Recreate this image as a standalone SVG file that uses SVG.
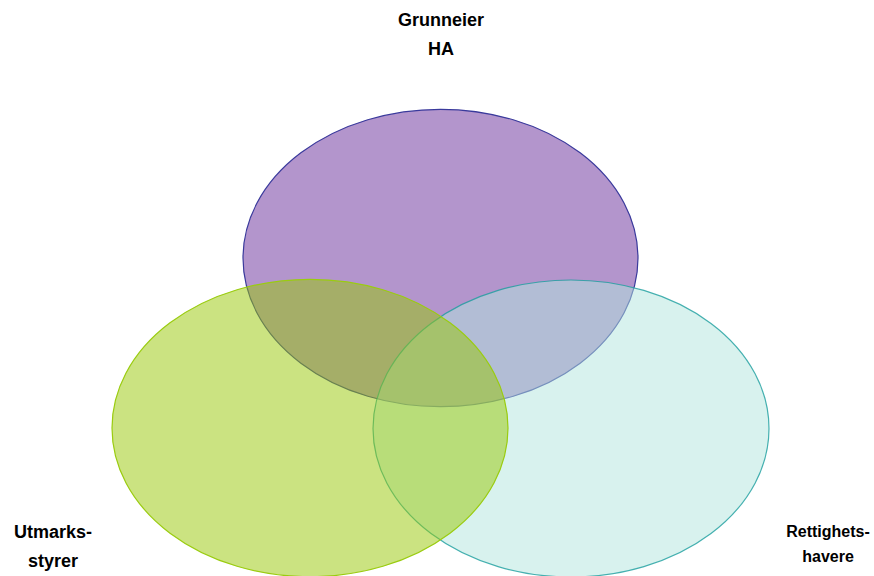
<svg xmlns="http://www.w3.org/2000/svg" width="874" height="576" viewBox="0 0 874 576">
<style>
.lbl{font-family:"Liberation Sans",Arial,sans-serif;font-weight:bold;fill:#000;text-anchor:middle}
.big{font-size:18px}
.small{font-size:16px}
.venn{fill-opacity:0.5;stroke-width:1.2}
</style>
<rect width="874" height="576" fill="#fff"/>
<g id="grunneier">
<ellipse class="venn" cx="440.5" cy="258" rx="197.5" ry="148.7" fill="#672b99" stroke="#3a3a9c"/>
<text class="lbl big" x="441" y="26">Grunneier</text>
<text class="lbl big" x="441" y="55">HA</text>
</g>
<g id="rettighetshavere">
<ellipse class="venn" cx="571" cy="428.5" rx="198" ry="148.5" fill="#b1e5dd" stroke="#1a9e9e" stroke-opacity="0.8"/>
<text class="lbl small" x="828" y="537">Rettighets-</text>
<text class="lbl small" x="828" y="562">havere</text>
</g>
<g id="utmarksstyrer">
<ellipse class="venn" cx="310" cy="428" rx="198" ry="148.7" fill="#97c703" stroke="#9acc10"/>
<text class="lbl big" x="53" y="538">Utmarks-</text>
<text class="lbl big" x="53" y="567">styrer</text>
</g>
<g id="connectors"/>
</svg>
